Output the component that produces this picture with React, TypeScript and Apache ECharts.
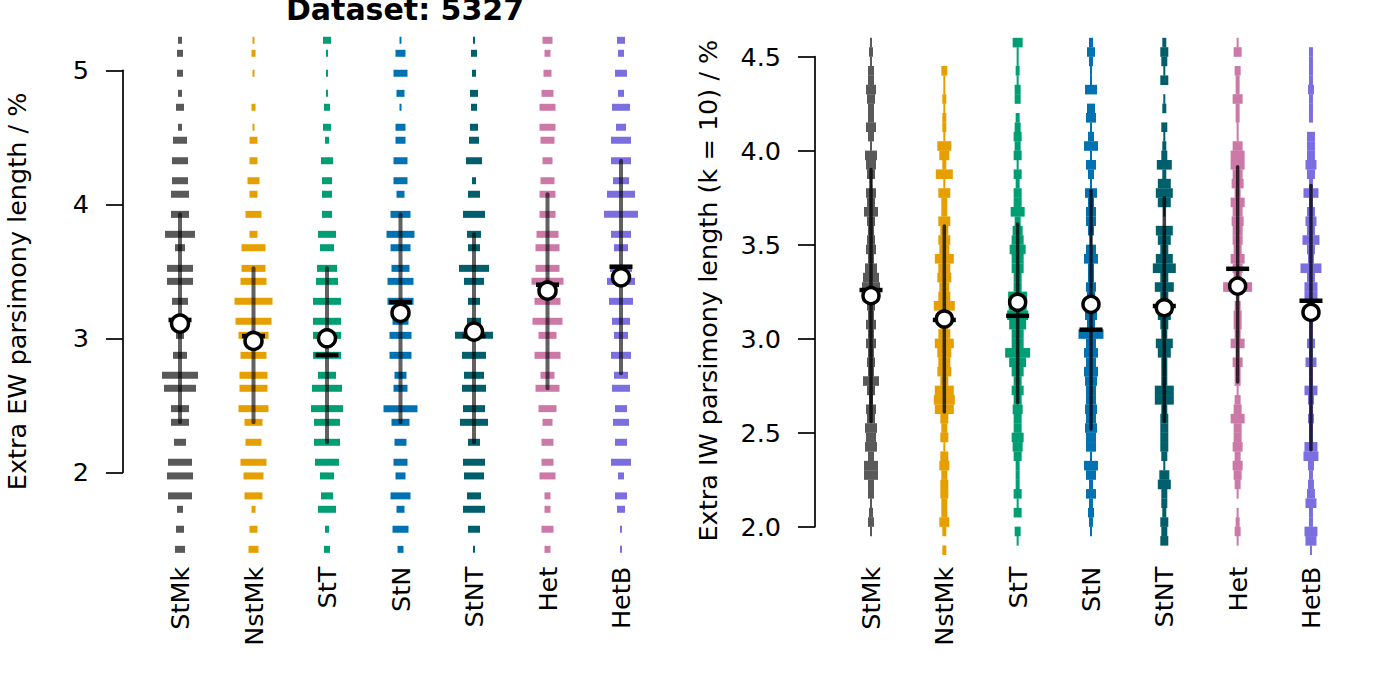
import React, { useEffect, useRef } from 'react';
import * as echarts from 'echarts';

const CATS = ['StMk', 'NstMk', 'StT', 'StN', 'StNT', 'Het', 'HetB'];
const COLORS = ['#595959', '#E69F00', '#009E73', '#0072B2', '#005F6A', '#CC79A7', '#7B6FE0'];

// ---- Left panel: Extra EW parsimony length (%) : discrete levels ----
const ewLevels = [5.224, 5.127, 4.978, 4.828, 4.724, 4.575, 4.478, 4.325, 4.176, 4.075,
  3.925, 3.776, 3.676, 3.522, 3.425, 3.276, 3.127, 3.022, 2.873, 2.724,
  2.627, 2.475, 2.373, 2.224, 2.075, 1.973, 1.824, 1.724, 1.575, 1.425];
const ewStMk = [2, 3, 3, 2, 4, 2, 7, 8, 8, 9, 9, 15, 5, 13, 13, 8, 6, 4, 7, 18, 16, 9, 9, 6, 12, 13, 12, 3, 4, 5];
const ewNstMk = [1, 2, 1, 0, 2, 1, 4, 4, 6, 4, 8, 4, 12, 12, 13, 19, 18, 15, 13, 14, 14, 15, 9, 8, 13, 10, 9, 2, 4, 5];
const ewStT = [4, 1, 1, 1, 3, 4, 2, 6, 5, 5, 5, 9, 7, 10, 11, 14, 14, 14, 14, 9, 15, 16, 13, 13, 12, 7, 6, 9, 2, 3];
const ewStN = [1, 5, 7, 4, 1, 5, 5, 7, 7, 4, 10, 14, 10, 9, 13, 13, 8, 11, 11, 6, 7, 17, 9, 6, 7, 5, 10, 4, 8, 3];
const ewStNT = [1, 3, 2, 4, 3, 4, 5, 8, 2, 6, 11, 7, 6, 15, 10, 6, 7, 19, 12, 10, 12, 11, 14, 6, 11, 10, 7, 11, 6, 1];
const ewHet = [5, 3, 4, 6, 8, 8, 7, 5, 7, 8, 8, 11, 12, 12, 16, 13, 15, 9, 13, 7, 12, 9, 5, 6, 6, 8, 3, 3, 6, 3];
const ewHetB = [4, 3, 6, 3, 9, 5, 10, 10, 8, 14, 17, 10, 7, 11, 14, 12, 9, 7, 10, 7, 9, 6, 8, 6, 10, 3, 6, 4, 1, 1];
const ewLow = [2.373, 2.373, 2.224, 2.373, 2.224, 2.627, 2.74];
const ewHigh = [3.925, 3.522, 3.522, 3.925, 3.776, 4.075, 4.325];
const ewMedian = [3.137, 3.017, 2.875, 3.27, 3.017, 3.40, 3.534];
const ewMean = [3.11, 2.98, 3.0, 3.19, 3.05, 3.355, 3.455];
const ewTicks = [2, 3, 4, 5];

// ---- Right panel: Extra IW parsimony length (k = 10) (%) : 0.05 bins ----
const iwBins = [4.575, 4.525, 4.475, 4.425, 4.375, 4.325, 4.275, 4.225, 4.175, 4.125,
  4.075, 4.025, 3.975, 3.925, 3.875, 3.825, 3.775, 3.725, 3.675, 3.625,
  3.575, 3.525, 3.475, 3.425, 3.375, 3.325, 3.275, 3.225, 3.175, 3.125,
  3.075, 3.025, 2.975, 2.925, 2.875, 2.825, 2.775, 2.725, 2.675, 2.625,
  2.575, 2.525, 2.475, 2.425, 2.375, 2.325, 2.275, 2.225, 2.175, 2.125,
  2.075, 2.025, 1.975, 1.925, 1.875];
const iwStMk = [2, 4, 2, 6, 6, 10, 8, 6, 6, 10, 6, 2, 12, 10, 8, 2, 10, 8, 14, 8, 6, 8, 10, 6, 12, 16, 18, 10, 8, 6, 10, 6, 10, 6, 8, 6, 16, 8, 4, 10, 8, 12, 10, 12, 6, 14, 14, 6, 6, 2, 4, 6, 2, 0, 0];
const iwNstMk = [0, 0, 0, 6, 2, 2, 4, 2, 4, 4, 2, 14, 10, 4, 17, 2, 12, 6, 6, 12, 8, 12, 10, 19, 12, 14, 10, 12, 21, 10, 8, 12, 19, 14, 12, 14, 8, 19, 21, 19, 8, 6, 8, 2, 8, 10, 6, 8, 8, 6, 6, 10, 4, 0, 4];
const iwStT = [10, 2, 2, 4, 2, 6, 6, 0, 4, 6, 8, 6, 8, 2, 8, 4, 8, 8, 14, 6, 10, 12, 16, 12, 12, 8, 8, 19, 18, 21, 17, 12, 12, 25, 17, 12, 8, 12, 8, 10, 8, 8, 12, 10, 8, 4, 4, 4, 8, 2, 8, 0, 6, 2, 0];
const iwStN = [4, 8, 4, 2, 2, 12, 0, 8, 10, 2, 6, 14, 2, 10, 6, 2, 12, 6, 10, 10, 6, 2, 10, 14, 6, 6, 10, 8, 8, 12, 8, 25, 10, 14, 10, 14, 12, 10, 10, 12, 10, 12, 10, 10, 2, 14, 10, 4, 10, 4, 6, 4, 2, 0, 0];
const iwStNT = [4, 8, 6, 2, 8, 0, 2, 4, 0, 6, 2, 4, 6, 15, 4, 13, 17, 13, 2, 0, 17, 13, 8, 17, 23, 8, 19, 8, 15, 13, 8, 6, 17, 13, 6, 6, 6, 19, 19, 6, 8, 8, 8, 8, 6, 2, 10, 13, 6, 6, 4, 8, 6, 8, 0];
const iwHet = [2, 8, 0, 6, 4, 4, 10, 4, 4, 2, 2, 10, 14, 14, 10, 12, 6, 14, 10, 12, 10, 10, 8, 14, 10, 8, 29, 2, 6, 8, 8, 6, 14, 4, 10, 6, 6, 2, 6, 8, 14, 8, 8, 10, 6, 10, 8, 6, 2, 0, 2, 4, 6, 2, 0];
const iwHetB = [0, 4, 4, 4, 4, 6, 4, 4, 4, 0, 8, 8, 8, 11, 8, 4, 15, 4, 8, 11, 8, 17, 8, 6, 21, 8, 13, 13, 8, 8, 4, 4, 8, 4, 11, 4, 4, 13, 6, 4, 6, 4, 4, 13, 15, 6, 4, 6, 8, 11, 4, 4, 13, 11, 2];
const iwLow = [2.56, 2.61, 2.66, 2.52, 2.56, 2.77, 2.41];
const iwHigh = [3.90, 3.60, 3.61, 3.79, 3.75, 3.915, 3.815];
const iwMedian = [3.259, 3.10, 3.122, 3.048, 3.174, 3.372, 3.202];
const iwMean = [3.229, 3.105, 3.194, 3.183, 3.165, 3.28, 3.14];
const iwTicks = [2.0, 2.5, 3.0, 3.5, 4.0, 4.5];

const EW_COUNTS = [ewStMk, ewNstMk, ewStT, ewStN, ewStNT, ewHet, ewHetB];
const IW_COUNTS = [iwStMk, iwNstMk, iwStT, iwStN, iwStNT, iwHet, iwHetB];

const FONT = 'DejaVu Sans';
const FS = 25.5;

function barItems(levels: number[], counts: number[][]) {
  const out: any[] = [];
  counts.forEach((arr, c) => {
    arr.forEach((n, i) => {
      if (n > 0) out.push({ value: [c, levels[i], n], itemStyle: { color: COLORS[c], opacity: 1 } });
    });
  });
  return out;
}

function rangeSeries(xi: number, yi: number, low: number[], high: number[], stroke: string, lw: number) {
  return {
    type: 'custom',
    xAxisIndex: xi,
    yAxisIndex: yi,
    z: 3,
    encode: { x: 0, y: [1, 2] },
    data: low.map((l, i) => [i, l, high[i]]),
    renderItem: (params: any, api: any) => {
      const x = api.value(0);
      const p1 = api.coord([x, api.value(1)]);
      const p2 = api.coord([x, api.value(2)]);
      return {
        type: 'line',
        shape: { x1: p1[0], y1: p1[1], x2: p2[0], y2: p2[1] },
        style: { stroke, lineWidth: lw, lineCap: 'round' },
      };
    },
  };
}

function buildOption() {
  const catAxis = (gi: number) => ({
    type: 'category',
    gridIndex: gi,
    data: CATS,
    boundaryGap: true,
    axisLine: { show: false },
    axisTick: { show: false },
    axisLabel: { rotate: 90, fontSize: FS, color: '#000', margin: 14, fontFamily: FONT, interval: 0 },
    splitLine: { show: false },
  });
  const hiddenVal = (gi: number) => ({ type: 'value', gridIndex: gi, show: false, min: 0, max: 1 });
  const axisLine = { show: true, lineStyle: { color: '#000', width: 1.7 } };
  return {
    animation: false,
    backgroundColor: '#fff',
    textStyle: { fontFamily: FONT },
    title: {
      text: 'Dataset: 5327',
      left: 400,
      textAlign: 'center',
      top: -11,
      textStyle: { fontSize: 30, fontWeight: 'bold', color: '#000', fontFamily: FONT },
    },
    grid: [
      { left: 143.25, width: 514.5, top: 30.1, height: 522.6 },
      { left: 123, width: 10, top: 70.3, height: 402 },
      { left: 834.33, width: 513.3, top: 28.5, height: 524.2 },
      { left: 815, width: 10, top: 56.7, height: 470 },
    ],
    xAxis: [catAxis(0), hiddenVal(1), catAxis(2), hiddenVal(3)],
    yAxis: [
      {
        type: 'value', gridIndex: 0, min: 1.4, max: 5.3,
        axisLine: { show: false }, axisTick: { show: false }, axisLabel: { show: false }, splitLine: { show: false },
        name: 'Extra EW parsimony length / %', nameLocation: 'middle', nameGap: 113,
        nameTextStyle: { fontSize: FS, color: '#000', fontFamily: FONT },
      },
      {
        type: 'value', gridIndex: 1, min: ewTicks[0], max: ewTicks[ewTicks.length - 1], interval: 1,
        axisLine, axisTick: { show: true, length: 17, lineStyle: { color: '#000', width: 1.7 } },
        axisLabel: { fontSize: FS, color: '#000', margin: 34, fontFamily: FONT },
        splitLine: { show: false },
      },
      {
        type: 'value', gridIndex: 2, min: 1.862, max: 4.65,
        axisLine: { show: false }, axisTick: { show: false }, axisLabel: { show: false }, splitLine: { show: false },
        name: 'Extra IW parsimony length (k = 10) / %', nameLocation: 'middle', nameGap: 113,
        nameTextStyle: { fontSize: FS, color: '#000', fontFamily: FONT },
      },
      {
        type: 'value', gridIndex: 3, min: iwTicks[0], max: iwTicks[iwTicks.length - 1], interval: 0.5,
        axisLine, axisTick: { show: true, length: 17, lineStyle: { color: '#000', width: 1.7 } },
        axisLabel: { fontSize: FS, color: '#000', margin: 34, fontFamily: FONT, formatter: (v: number) => v.toFixed(1) },
        splitLine: { show: false },
      },
    ],
    series: [
      {
        type: 'scatter', xAxisIndex: 0, yAxisIndex: 0, z: 2, symbol: 'rect',
        symbolSize: (v: number[]) => [v[2] * 2, 7],
        data: barItems(ewLevels, EW_COUNTS),
        emphasis: { disabled: true },
      },
      rangeSeries(0, 0, ewLow, ewHigh, 'rgba(0,0,0,0.62)', 4),
      {
        type: 'scatter', xAxisIndex: 0, yAxisIndex: 0, z: 4, symbol: 'rect', symbolSize: [23, 4.5],
        itemStyle: { color: '#000', opacity: 1 }, data: ewMedian.map((m, i) => [i, m]), emphasis: { disabled: true },
      },
      {
        type: 'scatter', xAxisIndex: 0, yAxisIndex: 0, z: 5, symbol: 'circle', symbolSize: 17,
        itemStyle: { color: '#fff', borderColor: '#000', borderWidth: 3.5, opacity: 1 },
        data: ewMean.map((m, i) => [i, m]), emphasis: { disabled: true },
      },
      {
        type: 'scatter', xAxisIndex: 2, yAxisIndex: 2, z: 2, symbol: 'rect',
        symbolSize: (v: number[]) => [v[2], 9.6],
        data: barItems(iwBins, IW_COUNTS),
        emphasis: { disabled: true },
      },
      rangeSeries(2, 2, iwLow, iwHigh, 'rgba(0,0,0,0.75)', 3.5),
      {
        type: 'scatter', xAxisIndex: 2, yAxisIndex: 2, z: 4, symbol: 'rect', symbolSize: [23, 4.5],
        itemStyle: { color: '#000', opacity: 1 }, data: iwMedian.map((m, i) => [i, m]), emphasis: { disabled: true },
      },
      {
        type: 'scatter', xAxisIndex: 2, yAxisIndex: 2, z: 5, symbol: 'circle', symbolSize: 16,
        itemStyle: { color: '#fff', borderColor: '#000', borderWidth: 3.5, opacity: 1 },
        data: iwMean.map((m, i) => [i, m]), emphasis: { disabled: true },
      },
    ],
  };
}

export default function App() {
  const ref = useRef<HTMLDivElement>(null);
  useEffect(() => {
    if (!ref.current) return;
    const chart = echarts.init(ref.current, null, { renderer: 'svg' });
    chart.setOption(buildOption() as any);
    return () => chart.dispose();
  }, []);
  return (
    <div
      ref={ref}
      style={{ position: 'fixed', left: 0, top: 0, width: 1382, height: 691, background: '#fff' }}
    />
  );
}
